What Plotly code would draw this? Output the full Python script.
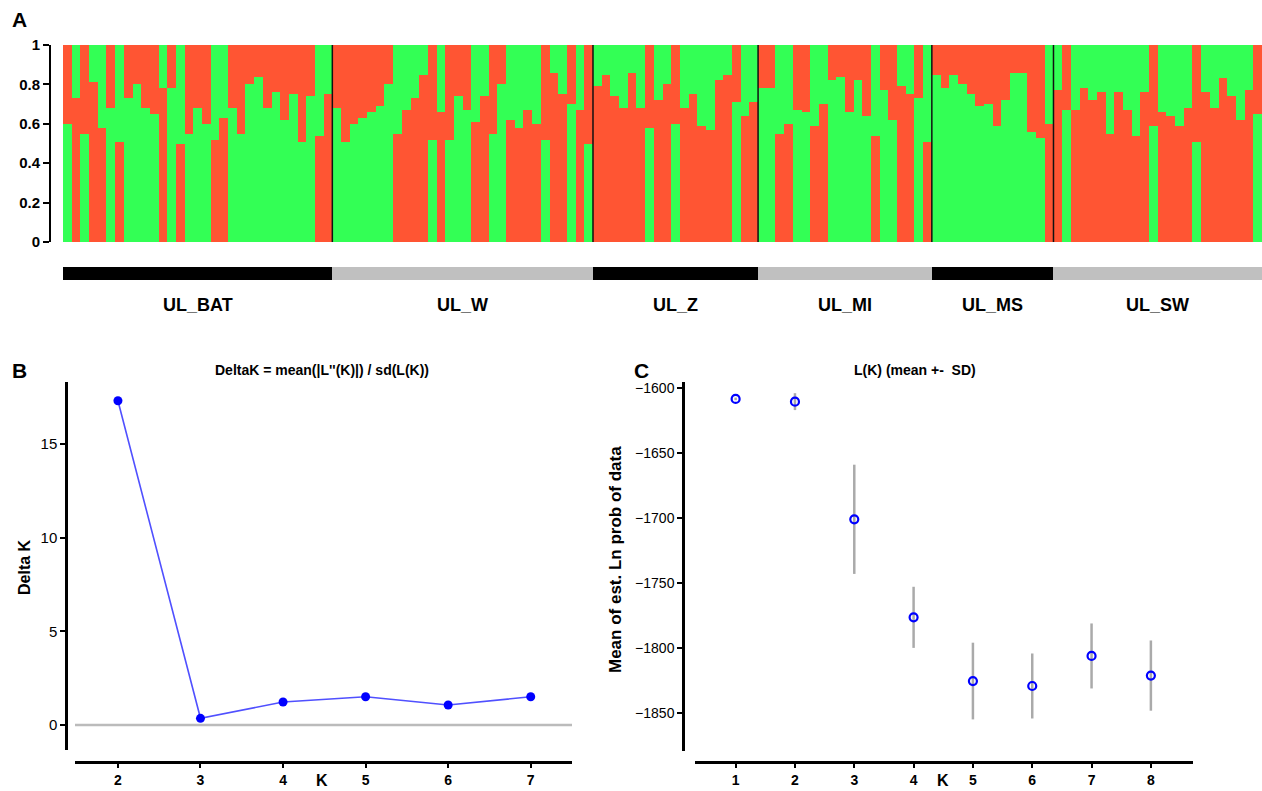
import plotly.graph_objects as go

# ---------------- Panel A data (STRUCTURE, K=2) ----------------
populations = ["UL_BAT", "UL_W", "UL_Z", "UL_MI", "UL_MS", "UL_SW"]
band_colors = ["#000000", "#c0c0c0", "#000000", "#c0c0c0", "#000000", "#c0c0c0"]

# split height of the lower segment and colour of the lower segment (G=green, R=red)
BAT_q = [0.60, 0.73, 0.55, 0.81, 0.58, 0.68, 0.51, 0.73, 0.80, 0.68, 0.65, 0.78, 0.78, 0.50, 0.55, 0.68,
         0.60, 0.52, 0.63, 0.68, 0.55, 0.80, 0.84, 0.68, 0.76, 0.62, 0.75, 0.51, 0.74, 0.54, 0.75]
BAT_low = "GRGRRGRGGGGRGRGGGRRGGGGGGGGGGRR"
W_q = [0.68, 0.51, 0.60, 0.63, 0.66, 0.69, 0.80, 0.55, 0.67, 0.73, 0.85, 0.52, 0.66, 0.52, 0.74, 0.67,
       0.61, 0.74, 0.55, 0.80, 0.62, 0.58, 0.67, 0.60, 0.52, 0.86, 0.75, 0.70, 0.67, 0.50]
W_low = "GGGGGGGRRRRGRGGGRRGGRRRRGRRGRG"
Z_q = [0.79, 0.85, 0.74, 0.68, 0.86, 0.68, 0.58, 0.72, 0.80, 0.60, 0.68, 0.75, 0.59, 0.57, 0.82, 0.85,
       0.71, 0.64, 0.71]
Z_low = "RRRRRRGRRGRRRRRRGRR"
MI_q = [0.78, 0.78, 0.55, 0.60, 0.67, 0.66, 0.59, 0.70, 0.82, 0.84, 0.66, 0.82, 0.64, 0.54, 0.77, 0.62,
        0.79, 0.75, 0.73, 0.51]
MI_low = "GGRRGGRRGGGGGRGGRRGR"
MS_q = [0.85, 0.78, 0.85, 0.80, 0.75, 0.69, 0.70, 0.59, 0.72, 0.86, 0.86, 0.56, 0.53, 0.60]
MS_low = "GGGGGGGGGGGGGR"
SW_q = [0.77, 0.67, 0.67, 0.78, 0.72, 0.76, 0.55, 0.76, 0.67, 0.54, 0.76, 0.59, 0.66, 0.64, 0.59, 0.68,
        0.51, 0.76, 0.68, 0.83, 0.74, 0.62, 0.77, 0.65]
SW_low = "RGRRRRRRRRRGRRRRGRRRRRRG"

# ---------------- Panel B data ----------------
K_B = [2, 3, 4, 5, 6, 7]
deltaK = [17.3, 0.36, 1.23, 1.51, 1.07, 1.51]

# ---------------- Panel C data ----------------
K_C = [1, 2, 3, 4, 5, 6, 7, 8]
LK_mean = [-1608.2, -1610.3, -1700.8, -1776.2, -1825.2, -1829.0, -1805.9, -1821.0]
LK_sd = [1.0, 6.5, 42.0, 23.5, 29.5, 25.0, 25.0, 27.0]

GREEN = "#33ff55"
RED = "#ff5533"
W, H = 1262, 791
NARROW = "Liberation Sans Narrow, Arial Narrow, Liberation Sans, Arial"
SANS = "Liberation Sans, Arial"


def px(x):
    return x / W


def py(y):
    return 1 - y / H


pop_q = [BAT_q, W_q, Z_q, MI_q, MS_q, SW_q]
pop_low = [BAT_low, W_low, Z_low, MI_low, MS_low, SW_low]

q_all, low_all, counts = [], [], []
for q, low in zip(pop_q, pop_low):
    q_all += q
    low_all += list(low)
    counts.append(len(q))
N = len(q_all)
idx = list(range(N))
col_low = [GREEN if c == "G" else RED for c in low_all]
col_high = [RED if c == "G" else GREEN for c in low_all]
top_h = [1 - v for v in q_all]

fig = go.Figure()
fig.add_trace(go.Bar(x=idx, y=q_all, base=0, width=1, marker=dict(color=col_low, line=dict(width=0)),
                     xaxis="x", yaxis="y", showlegend=False))
fig.add_trace(go.Bar(x=idx, y=top_h, base=q_all, width=1, marker=dict(color=col_high, line=dict(width=0)),
                     xaxis="x", yaxis="y", showlegend=False))

starts = []
s = 0
for c in counts:
    starts.append(s)
    s += c
centers = [st + c / 2 - 0.5 for st, c in zip(starts, counts)]
fig.add_trace(go.Bar(x=centers, y=[1] * len(counts), base=0, width=counts,
                     marker=dict(color=band_colors, line=dict(width=0)),
                     xaxis="x", yaxis="y4", showlegend=False))

shapes = []
for st in starts[1:]:
    shapes.append(dict(type="line", xref="x", yref="y", x0=st - 0.5, x1=st - 0.5, y0=0, y1=1,
                       line=dict(color="#111111", width=1.5)))

annotations = []
for name, cx in zip(populations, centers):
    annotations.append(dict(text="<b>%s</b>" % name, x=cx, xref="x", y=py(305), yref="paper",
                            showarrow=False, font=dict(size=18, color="black", family=NARROW)))

# Panel B
fig.add_trace(go.Scatter(x=K_B, y=deltaK, mode="lines+markers", xaxis="x2", yaxis="y2",
                         line=dict(color="#5050ff", width=1.6),
                         marker=dict(color="#0000ff", size=9), showlegend=False))
shapes.append(dict(type="line", xref="x2 domain", yref="y2", x0=0, x1=1, y0=0, y1=0,
                   line=dict(color="#bbbbbb", width=2.5), layer="below"))

# Panel C
fig.add_trace(go.Scatter(x=K_C, y=LK_mean, mode="markers", xaxis="x3", yaxis="y3",
                         error_y=dict(type="data", array=LK_sd, color="#aaaaaa", thickness=2.5, width=0),
                         marker=dict(symbol="circle-open", color="#0000ff", size=8, line=dict(width=2.2)),
                         showlegend=False))


def ann(text, x, y, size, angle=0, xanchor="center", family=SANS):
    annotations.append(dict(text=text, x=px(x), y=py(y), xref="paper", yref="paper", showarrow=False,
                            textangle=angle, xanchor=xanchor, yanchor="middle",
                            font=dict(size=size, family=family, color="black")))


ann("<b>A</b>", 10, 20, 21, xanchor="left")
ann("<b>B</b>", 10, 370, 21, xanchor="left")
ann("<b>C</b>", 632, 370, 21, xanchor="left")
ann("<b>DeltaK = mean(|L''(K)|) / sd(L(K))</b>", 322, 370, 14)
ann("<b>L(K) (mean +-  SD)</b>", 915, 370, 14)
ann("<b>K</b>", 322, 780, 16)
ann("<b>K</b>", 943, 780, 16)
ann("<b>Delta K</b>", 24, 567, 16, angle=-90)
ann("<b>Mean of est. Ln prob of data</b>", 615, 560, 17, angle=-90)

base_axis = dict(showgrid=False, zeroline=False, showline=True, linecolor="black", ticks="outside",
                 tickcolor="black")
ytick_font = dict(size=15, color="black", family=SANS)
xtick_font = dict(size=14, color="black", family=NARROW)

fig.update_layout(
    width=W, height=H, margin=dict(l=0, r=0, t=0, b=0, autoexpand=False),
    paper_bgcolor="white", plot_bgcolor="white", barmode="overlay", bargap=0,
    font=dict(family=SANS, color="black"),
    xaxis=dict(domain=[px(63), 1], range=[-0.5, N - 0.5], visible=False, anchor="y", fixedrange=True),
    yaxis=dict(domain=[py(242), py(45)], range=[0, 1], anchor="free", position=px(50),
               tickvals=[0, 0.2, 0.4, 0.6, 0.8, 1],
               ticktext=["<b>0</b>", "<b>0.2</b>", "<b>0.4</b>", "<b>0.6</b>", "<b>0.8</b>", "<b>1</b>"],
               linewidth=2, ticklen=6, tickwidth=2, tickfont=ytick_font, **base_axis),
    yaxis4=dict(domain=[py(280), py(267)], range=[0, 1], anchor="x", visible=False),
    xaxis2=dict(domain=[px(75), px(572)], range=[1.48, 7.5], anchor="free", position=py(762),
                tickvals=K_B, ticktext=["<b>%d</b>" % k for k in K_B],
                linewidth=2.5, ticklen=4, tickwidth=2, tickfont=xtick_font, **base_axis),
    yaxis2=dict(domain=[py(750), py(382)], range=[-1.33, 18.3], anchor="free", position=px(66),
                tickvals=[0, 5, 10, 15], linewidth=2.5, ticklen=5, tickwidth=2, tickfont=ytick_font,
                **base_axis),
    xaxis3=dict(domain=[px(695), px(1193)], range=[0.315, 8.71], anchor="free", position=py(762),
                tickvals=K_C, ticktext=["<b>%d</b>" % k for k in K_C],
                linewidth=2.5, ticklen=4, tickwidth=2, tickfont=xtick_font, **base_axis),
    yaxis3=dict(domain=[py(751), py(382)], range=[-1879, -1595.2], anchor="free", position=px(683),
                tickvals=[-1850, -1800, -1750, -1700, -1650, -1600], linewidth=2.5, ticklen=5, tickwidth=2,
                tickfont=dict(size=14, color="black", family=SANS), **base_axis),
    shapes=shapes, annotations=annotations,
)

fig.write_html("out.html")
